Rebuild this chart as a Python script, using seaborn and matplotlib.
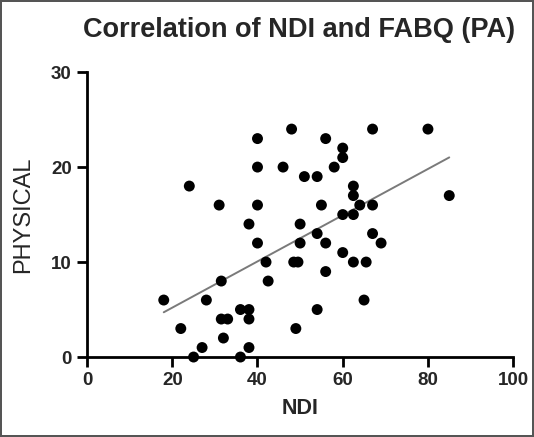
import matplotlib

matplotlib.use("Agg")

import matplotlib.pyplot as plt
import numpy as np
import pandas as pd
import seaborn as sns

# NDI (x) vs FABQ physical activity (y)
ndi = [18, 22, 24, 25, 27, 28, 31, 31.5, 31.5, 33, 32, 36, 36, 38, 38, 38, 38,
       40, 40, 40, 40, 42, 42.5, 46, 48, 48.5, 49.5, 49, 50, 50, 51, 54, 54, 54,
       55, 56, 56, 56, 58, 60, 60, 60, 60, 62.5, 62.5, 62.5, 62.5, 64, 65.5, 65,
       67, 67, 67, 69, 80, 85]
physical = [6, 3, 18, 0, 1, 6, 16, 8, 4, 4, 2, 0, 5, 5, 4, 1, 14,
            23, 20, 16, 12, 10, 8, 20, 24, 10, 10, 3, 14, 12, 19, 19, 13, 5,
            16, 23, 12, 9, 20, 22, 21, 15, 11, 18, 17, 15, 10, 16, 10, 6,
            24, 16, 13, 12, 24, 17]

x_ticks = [0, 20, 40, 60, 80, 100]
y_ticks = [0, 10, 20, 30]

df = pd.DataFrame({"NDI": ndi, "PHYSICAL": physical})

sns.set_style("ticks")
plt.rcParams["font.family"] = ["Liberation Sans", "DejaVu Sans"]

fig = plt.figure(figsize=(5.34, 4.37), dpi=100, edgecolor="#555555", linewidth=1.5)
ax = fig.add_axes([0.163, 0.183, 0.798, 0.652])

sns.regplot(
    data=df,
    x="NDI",
    y="PHYSICAL",
    ci=None,
    ax=ax,
    scatter_kws={"s": 62, "color": "black", "edgecolor": "none", "alpha": 1, "clip_on": False, "zorder": 3},
    line_kws={"color": "#7a7a7a", "linewidth": 1.4, "zorder": 2},
)

ax.set_xlim(0, 100)
ax.set_ylim(0, 30)
ax.set_xticks(x_ticks)
ax.set_yticks(y_ticks)
sns.despine(ax=ax)
for side in ["left", "bottom"]:
    ax.spines[side].set_linewidth(2)
    ax.spines[side].set_color("black")
ax.tick_params(axis="both", length=7, width=2, color="black", labelsize=13.5, pad=4)
for label in ax.get_xticklabels() + ax.get_yticklabels():
    label.set_fontweight("bold")

ax.set_xlabel("NDI", fontsize=15.5, fontweight="bold", labelpad=6)
ax.set_ylabel("PHYSICAL", fontsize=17, labelpad=12)
fig.suptitle("Correlation of NDI and FABQ (PA)", fontsize=19.5, fontweight="bold", x=0.56, y=0.96)

fig.savefig("out.png", dpi=100, edgecolor=fig.get_edgecolor())
plt.close(fig)
